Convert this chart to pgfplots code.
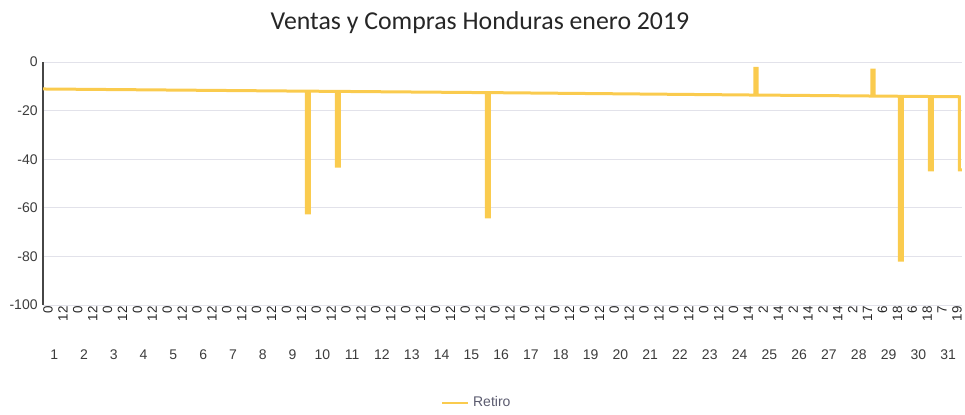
\documentclass[border=0pt]{standalone}
\usepackage{pgfplots}
\pgfplotsset{compat=1.18}
\usepackage{fontspec}
\setmainfont{Liberation Sans}
\newfontfamily\titlefont{Carlito}
\definecolor{gold}{RGB}{250,203,78}
\definecolor{gridc}{RGB}{226,226,234}
\definecolor{axc}{RGB}{70,70,70}
\definecolor{txt}{RGB}{60,60,60}
\definecolor{legc}{RGB}{90,90,110}
\begin{document}
\begin{tikzpicture}
\path[use as bounding box] (-21.5pt,-54.5pt) rectangle (461pt,152.5pt);
\begin{axis}[
  at={(0,0)}, anchor=south west,
  scale only axis, width=459.5pt, height=121.5pt,
  xmin=0, xmax=61.67, ymin=-100, ymax=0,
  axis x line*=bottom, axis y line*=left,
  x axis line style={draw=gridc,-},
  y axis line style={draw=axc,line width=0.9pt,-},
  ytick={-100,-80,-60,-40,-20,0},
  yticklabels={-100,-80,-60,-40,-20,0},
  ymajorgrids, major grid style={draw=gridc, line width=0.5pt},
  major tick length=0pt,
  yticklabel style={font=\fontsize{7}{8}\selectfont, text=txt, inner sep=1pt, xshift=-1.5pt},
  xtick={0,1,...,61},
  xticklabels={0,12,0,12,0,12,0,12,0,12,0,12,0,12,0,12,0,12,0,12,0,12,0,12,0,12,0,12,0,12,0,12,0,12,0,12,0,12,0,12,0,12,0,12,0,12,0,14,2,14,2,14,2,14,2,17,6,18,6,18,7,19},
  xticklabel style={rotate=90, anchor=east, font=\fontsize{6.7}{7}\selectfont, text=black!85, inner sep=0.5pt, yshift=-2.5pt},
  legend style={at={(0.473,-0.403)}, anchor=center, draw=none, fill=none,
    font=\fontsize{7}{8}\selectfont, text=legc},
  legend image code/.code={\draw[#1, line width=1.3pt] (0cm,0cm) -- (0.45cm,0cm);},
]
\addplot[gold, line width=1.5pt, line join=miter] coordinates {
(0,-11.1)
(17.68,-12.0)(17.68,-62.1)(17.88,-62.1)(17.88,-12.0)
(19.69,-12.1)(19.69,-42.8)(19.89,-42.8)(19.89,-12.1)
(29.76,-12.6)(29.76,-63.7)(29.96,-63.7)(29.96,-12.6)
(47.77,-13.6)(47.77,-2.6)(47.92,-2.6)(47.92,-13.6)
(55.62,-14.0)(55.62,-3.3)(55.77,-3.3)(55.77,-14.0)
(57.47,-14.1)(57.47,-81.5)(57.67,-81.5)(57.67,-14.1)
(59.48,-14.2)(59.48,-44.4)(59.68,-44.4)(59.68,-14.2)
(61.5,-14.3)(61.5,-44.4)(61.67,-44.4)
};
\addlegendentry{Retiro}
\end{axis}
\foreach \d in {1,...,31}
  \node[font=\fontsize{7}{8}\selectfont, text=txt, anchor=center] at ({(2*\d-1.25)*7.45pt},-25pt) {\d};
\node[font=\titlefont\fontsize{12.9}{14}\selectfont, text=black!85] at (218.5pt,141pt) {Ventas y Compras Honduras enero 2019};
\end{tikzpicture}
\end{document}
